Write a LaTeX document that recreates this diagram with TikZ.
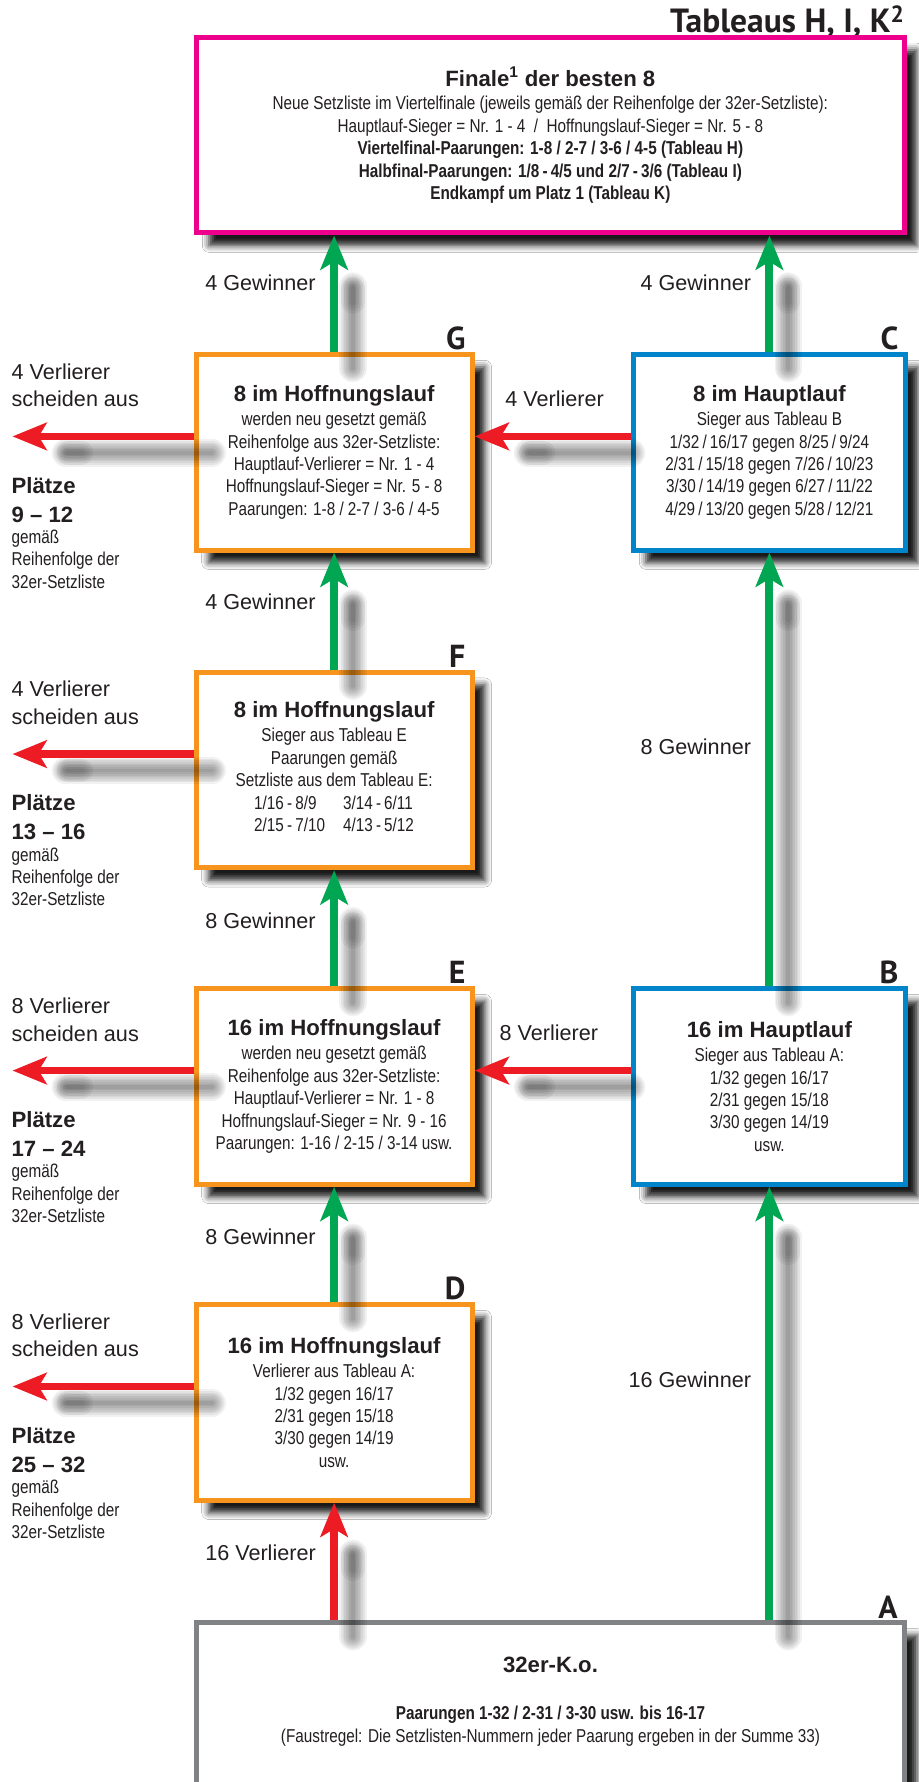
\documentclass[tikz,border=0pt]{standalone}
\usepackage{fontspec}
\setmainfont{Liberation Sans}
\newfontfamily\nrwfont[FakeStretch=0.82]{Liberation Sans}
\newfontfamily\ttlfont{PT Sans}
\usetikzlibrary{arrows.meta,shadows.blur}
\definecolor{txt}{RGB}{35,31,32}
\definecolor{mag}{RGB}{236,0,140}
\definecolor{org}{RGB}{247,148,29}
\definecolor{blu}{RGB}{0,133,202}
\definecolor{gry}{RGB}{128,130,133}
\definecolor{grn}{RGB}{0,166,81}
\definecolor{rd}{RGB}{237,28,36}
\newcommand\bodyfnt{\nrwfont\fontsize{16.4}{19.7}\selectfont}
\newcommand\headfnt{\rmfamily\bfseries\fontsize{19.5}{22}\selectfont}
\newcommand\lblfnt{\rmfamily\fontsize{19}{23}\selectfont}
\newcommand\ltrfnt{\ttlfont\bfseries\fontsize{28}{30}\selectfont}
\newcommand\ttlfnt{\ttlfont\bfseries\fontsize{29.5}{31}\selectfont}
\tikzset{
  hbox/.style={draw=#1, line width=4.4pt, fill=white, rectangle, inner sep=0pt, align=center, text=txt, font=\bodyfnt,
    blur shadow={shadow xshift=11pt, shadow yshift=-11pt, shadow blur radius=6pt, shadow opacity=90}},
  lcol/.style={minimum width=243pt, minimum height=172pt},
  rcol/.style={minimum width=239pt, minimum height=172pt},
  lbl/.style={font=\lblfnt, text=txt, inner sep=0pt},
  hdl/.style={font=\headfnt, text=txt, inner sep=0pt},
  sml/.style={font=\bodyfnt, text=txt, inner sep=0pt},
  ltr/.style={font=\ltrfnt, text=txt, inner sep=0pt, anchor=base east},
  garrow/.style={draw=grn, line width=7pt, -{Stealth[length=30pt, width=24pt, inset=7pt]}},
  rarrow/.style={draw=rd, line width=6.7pt, -{Stealth[length=30pt, width=24pt, inset=7pt]}},
  ashadow/.style={draw=black, line width=#1, opacity=0.055, line cap=round,
    transform canvas={xshift=16.5pt, yshift=-14.5pt}},
}
% shadow of an upward arrow: #2 start, #3 tip
\newcommand\shdv[3][0pt]{%
  \foreach \w in {3,6,9,12,15,18,21,24}{\draw[ashadow=\w pt, shorten <=#1] (#2) -- ([yshift=-30pt]#3);}
  \foreach \w in {6,11,16,21}{\draw[ashadow=\w pt] ([yshift=-33pt]#3) -- ([yshift=-44pt]#3);}
}
% shadow of a leftward arrow: #2 start, #3 tip
\newcommand\shdh[3][0pt]{%
  \foreach \w in {3,6,9,12,15,18,21,24}{\draw[ashadow=\w pt, shorten <=#1] (#2) -- ([xshift=30pt]#3);}
  \foreach \w in {6,11,16,21}{\draw[ashadow=\w pt] ([xshift=33pt]#3) -- ([xshift=44pt]#3);}
}
\newcommand\lgrp[4]{%
  \node[lbl, anchor=base west] (#1a) at (10,#2-50.5) {#3 Verlierer};
  \node[lbl, anchor=base west] (#1b) at (10,#2-26) {scheiden aus};
  \node[hdl, anchor=base west] (#1c) at (10,#2+50) {Plätze};
  \node[hdl, anchor=base west] (#1d) at (10,#2+75.5) {#4};
  \node[sml, anchor=base west] (#1e) at (10,#2+94.5) {gemäß};
  \node[sml, anchor=base west] (#1f) at (10,#2+114) {Reihenfolge der};
  \node[sml, anchor=base west] (#1g) at (10,#2+133.5) {32er-Setzliste};
}
\begin{document}
\begin{tikzpicture}[x=1pt,y=-1pt]
\useasboundingbox (0,0) rectangle (808.6,1568);
\clip (0,0) rectangle (808.6,1568);
\fill[white] (0,0) rectangle (808.6,1568);

% title
\node[font=\ttlfnt, text=txt, inner sep=0pt, anchor=base east] (title) at (796,29) {Tableaus H, I, K\textsuperscript{2}};

% boxes
\node[hbox=mag, minimum width=622.5pt, minimum height=172pt] (Fin) at (484.25,119) {%
{\headfnt Finale\textsuperscript{1} der besten 8}\\[1pt]
Neue Setzliste im Viertelfinale (jeweils gemäß der Reihenfolge der 32er-Setzliste):\\
Hauptlauf-Sieger = Nr. 1 - 4 \ / \ Hoffnungslauf-Sieger = Nr. 5 - 8\\
\textbf{Viertelfinal-Paarungen: 1-8 / 2-7 / 3-6 / 4-5 (Tableau H)}\\
\textbf{Halbfinal-Paarungen: 1/8\,-\,4/5 und 2/7\,-\,3/6 (Tableau I)}\\
\textbf{Endkampf um Platz 1 (Tableau K)}};

\node[hbox=org, lcol] (G) at (294,398) {%
{\headfnt 8 im Hoffnungslauf}\\[1.5pt]
werden neu gesetzt gemäß\\
Reihenfolge aus 32er-Setzliste:\\
Hauptlauf-Verlierer = Nr. 1 - 4\\
Hoffnungslauf-Sieger = Nr. 5 - 8\\
Paarungen: 1-8 / 2-7 / 3-6 / 4-5};

\node[hbox=blu, rcol] (C) at (677,398) {%
{\headfnt 8 im Hauptlauf}\\[1.5pt]
Sieger aus Tableau B\\
1/32\,/\,16/17 gegen 8/25\,/\,9/24\\
2/31\,/\,15/18 gegen 7/26\,/\,10/23\\
3/30\,/\,14/19 gegen 6/27\,/\,11/22\\
4/29\,/\,13/20 gegen 5/28\,/\,12/21};

\node[hbox=org, lcol] (F) at (294,677.5) {%
{\headfnt 8 im Hoffnungslauf}\\[1.5pt]
Sieger aus Tableau E\\
Paarungen gemäß\\
Setzliste aus dem Tableau E:\\
\begin{tabular}[t]{@{}l@{\hspace{16pt}}l@{}}
1/16\,-\,8/9 & 3/14\,-\,6/11\\
2/15\,-\,7/10 & 4/13\,-\,5/12
\end{tabular}};

\node[hbox=org, lcol] (E) at (294,956) {%
{\headfnt 16 im Hoffnungslauf}\\[1.5pt]
werden neu gesetzt gemäß\\
Reihenfolge aus 32er-Setzliste:\\
Hauptlauf-Verlierer = Nr. 1 - 8\\
Hoffnungslauf-Sieger = Nr. 9 - 16\\
Paarungen: 1-16 / 2-15 / 3-14 usw.};

\node[hbox=blu, rcol] (B) at (677,956) {%
{\headfnt 16 im Hauptlauf}\\[1.5pt]
Sieger aus Tableau A:\\
1/32 gegen 16/17\\
2/31 gegen 15/18\\
3/30 gegen 14/19\\
usw.};

\node[hbox=org, lcol] (D) at (294,1234) {%
{\headfnt 16 im Hoffnungslauf}\\[1.5pt]
Verlierer aus Tableau A:\\
1/32 gegen 16/17\\
2/31 gegen 15/18\\
3/30 gegen 14/19\\
usw.};

\node[hbox=gry, minimum width=623pt, minimum height=300pt] (A) at (484.4,1578) {};
\node[hdl, anchor=base] (At1) at (484.4,1472) {32er-K.o.};
\node[sml, anchor=base, font=\bodyfnt\bfseries] (At2) at (484.4,1513) {Paarungen 1-32 / 2-31 / 3-30 usw. bis 16-17};
\node[sml, anchor=base] (At3) at (484.4,1533) {(Faustregel: Die Setzlisten-Nummern jeder Paarung ergeben in der Summe 33)};

% letters
\node[ltr] (Gl) at ([xshift=-8pt,yshift=2pt]G.north east) {G};
\node[ltr] (Cl) at ([xshift=-8pt,yshift=2pt]C.north east) {C};
\node[ltr] (Fl) at ([xshift=-8pt,yshift=2pt]F.north east) {F};
\node[ltr] (El) at ([xshift=-8pt,yshift=2pt]E.north east) {E};
\node[ltr] (Bl) at ([xshift=-8pt,yshift=2pt]B.north east) {B};
\node[ltr] (Dl) at ([xshift=-8pt,yshift=2pt]D.north east) {D};
\node[ltr] (Al) at ([xshift=-8pt,yshift=2pt]A.north east) {A};

% arrow end points
\coordinate (Lx) at (11,0);
\coordinate (s1) at (G.north); \coordinate (t1) at (G.north |- Fin.south);
\coordinate (s2) at (C.north); \coordinate (t2) at (C.north |- Fin.south);
\coordinate (s3) at (F.north); \coordinate (t3) at (G.south);
\coordinate (s4) at (E.north); \coordinate (t4) at (F.south);
\coordinate (s5) at (D.north); \coordinate (t5) at (E.south);
\coordinate (s6) at (B.north); \coordinate (t6) at (C.south);
\coordinate (s7) at (B.south |- A.north); \coordinate (t7) at (B.south);
\coordinate (s8) at (D.south |- A.north); \coordinate (t8) at (D.south);
\coordinate (Cw) at ([yshift=14pt]C.west); \coordinate (h1) at (Cw -| G.east);
\coordinate (Bw) at ([yshift=14pt]B.west); \coordinate (h2) at (Bw -| E.east);
\coordinate (Gw) at ([yshift=14pt]G.west); \coordinate (gL) at (Gw -| Lx);
\coordinate (Fw) at ([yshift=14pt]F.west); \coordinate (fL) at (Fw -| Lx);
\coordinate (Ew) at ([yshift=14pt]E.west); \coordinate (eL) at (Ew -| Lx);
\coordinate (Dw) at ([yshift=14pt]D.west); \coordinate (dL) at (Dw -| Lx);

% arrow shadows
\shdv{s1}{t1}
\shdv{s2}{t2}
\shdv{s3}{t3}
\shdv{s4}{t4}
\shdv{s5}{t5}
\shdv{s6}{t6}
\shdv{s7}{t7}
\shdv{s8}{t8}
\shdh[16pt]{Cw}{h1}
\shdh[16pt]{Bw}{h2}
\shdh{Gw}{gL}
\shdh{Fw}{fL}
\shdh{Ew}{eL}
\shdh{Dw}{dL}

% arrows
\draw[garrow] (s1) -- (t1);
\draw[garrow] (s2) -- (t2);
\draw[garrow] (s3) -- (t3);
\draw[garrow] (s4) -- (t4);
\draw[garrow] (s5) -- (t5);
\draw[garrow] (s6) -- (t6);
\draw[garrow] (s7) -- (t7);
\draw[rarrow] (s8) -- (t8);
\draw[rarrow] (Cw) -- (h1);
\draw[rarrow] (Bw) -- (h2);
\draw[rarrow] (Gw) -- (gL);
\draw[rarrow] (Fw) -- (fL);
\draw[rarrow] (Ew) -- (eL);
\draw[rarrow] (Dw) -- (dL);

% arrow labels
\node[lbl, anchor=base east] (w1) at (278,256) {4 Gewinner};
\node[lbl, anchor=base east] (w2) at (661,256) {4 Gewinner};
\node[lbl, anchor=base east] (w3) at (278,536) {4 Gewinner};
\node[lbl, anchor=base east] (w4) at (661,664) {8 Gewinner};
\node[lbl, anchor=base east] (w5) at (278,817) {8 Gewinner};
\node[lbl, anchor=base east] (w6) at (278,1095) {8 Gewinner};
\node[lbl, anchor=base east] (w7) at (661,1221) {16 Gewinner};
\node[lbl, anchor=base east] (w8) at (278,1373) {16 Verlierer};
\node[lbl, anchor=base] (v1) at (488,358) {4 Verlierer};
\node[lbl, anchor=base] (v2) at (483,915.5) {8 Verlierer};

% left groups
\lgrp{gg}{384}{4}{9 – 12}
\lgrp{ff}{663.5}{4}{13 – 16}
\lgrp{ee}{942}{8}{17 – 24}
\lgrp{dd}{1220}{8}{25 – 32}
\end{tikzpicture}
\end{document}
